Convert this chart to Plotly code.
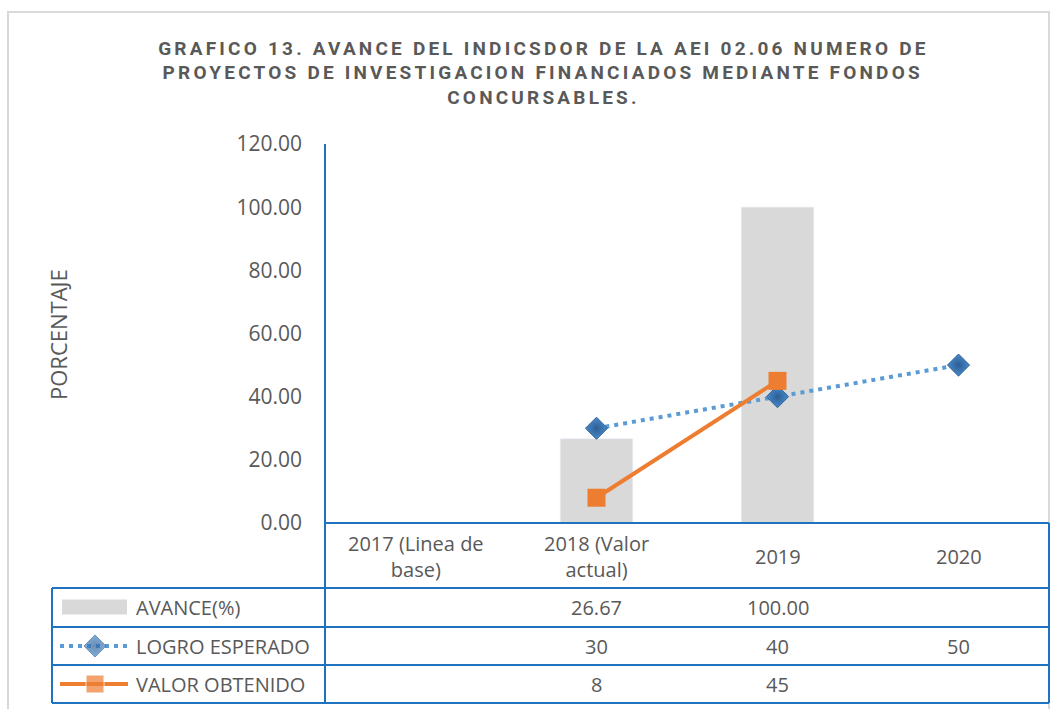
import plotly.graph_objects as go

# ---------------- data ----------------
categories = ["2017 (Linea de base)", "2018 (Valor actual)", "2019", "2020"]
category_labels = ["2017 (Linea de<br>base)", "2018 (Valor<br>actual)", "2019", "2020"]
avance = [None, 26.67, 100.00, None]
logro_esperado = [None, 30, 40, 50]
valor_obtenido = [None, 8, 45, None]
series_names = ["AVANCE(%)", "LOGRO ESPERADO", "VALOR OBTENIDO"]
y_ticks = [0, 20, 40, 60, 80, 100, 120]
title_lines = [
    "GRAFICO 13. AVANCE DEL INDICSDOR DE LA AEI 02.06 NUMERO DE",
    "PROYECTOS DE INVESTIGACION FINANCIADOS MEDIANTE FONDOS",
    "CONCURSABLES.",
]
y_title = "PORCENTAJE"

# ---------------- styling ----------------
W, H = 1061, 709
TXT = "#595959"
GRID_BLUE = "#1F72C0"
BAR_GRAY = "#D9D9D9"
ORANGE = "#ED7D31"
BLUE = "#5B9BD5"
FONT = "Open Sans"
DOTS = "4px,5px"


def px(x):
    return x / W


def py(y):
    return 1 - y / H


diamond = dict(symbol="diamond", size=17, color="#4A89CC",
               gradient=dict(type="radial", color="#2C5F93"),
               line=dict(color="#2F6399", width=1))

fig = go.Figure()

# main series
fig.add_trace(go.Bar(
    x=categories, y=avance, name=series_names[0], marker_color=BAR_GRAY,
    width=0.4, xaxis="x", yaxis="y", showlegend=False))
fig.add_trace(go.Scatter(
    x=categories, y=logro_esperado, name=series_names[1], mode="lines+markers",
    line=dict(color=BLUE, width=4, dash=DOTS), marker=diamond,
    xaxis="x", yaxis="y", showlegend=False))
fig.add_trace(go.Scatter(
    x=categories, y=valor_obtenido, name=series_names[2], mode="lines+markers",
    line=dict(color=ORANGE, width=4),
    marker=dict(symbol="square", size=18, color=ORANGE),
    xaxis="x", yaxis="y", showlegend=False))

# legend keys inside the data table (overlay pixel axes)
key_x = [60, 95, 128]
fig.add_trace(go.Scatter(
    x=[62, 127], y=[607, 607], mode="lines", line=dict(color=BAR_GRAY, width=15),
    xaxis="x2", yaxis="y2", showlegend=False, hoverinfo="skip"))
fig.add_trace(go.Scatter(
    x=key_x, y=[646, 646, 646], mode="lines+markers",
    line=dict(color=BLUE, width=4, dash=DOTS),
    marker=dict(diamond, size=[0, 17, 0]),
    xaxis="x2", yaxis="y2", showlegend=False, hoverinfo="skip"))
fig.add_trace(go.Scatter(
    x=key_x, y=[684, 684, 684], mode="lines+markers",
    line=dict(color=ORANGE, width=4),
    marker=dict(symbol="square", size=[0, 18, 0], color=ORANGE),
    xaxis="x2", yaxis="y2", showlegend=False, hoverinfo="skip"))

# ---------------- annotations ----------------
annotations = []
for line, yy in zip(title_lines, [48, 72.5, 97]):
    annotations.append(dict(
        text="<b>" + line + "</b>", x=px(543), y=py(yy), xref="paper", yref="paper",
        xanchor="center", yanchor="middle", showarrow=False,
        font=dict(family="Liberation Sans Narrow, Roboto, sans-serif", size=19, color=TXT)))

annotations.append(dict(
    text=y_title, x=px(58), y=py(335), xref="paper", yref="paper", textangle=-90,
    xanchor="center", yanchor="middle", showarrow=False,
    font=dict(family=FONT, size=22, color=TXT)))

# category header row (category index positions on the x axis)
for i, lab in enumerate(category_labels):
    annotations.append(dict(
        text=lab, x=i, xref="x", y=py(556), yref="paper",
        xanchor="center", yanchor="middle", showarrow=False,
        font=dict(family=FONT, size=20, color=TXT)))

row_centers = [607.5, 646, 684]
row_values = [
    [None if v is None else f"{v:.2f}" for v in avance],
    [None if v is None else f"{v:g}" for v in logro_esperado],
    [None if v is None else f"{v:g}" for v in valor_obtenido],
]
for name, yc, vals in zip(series_names, row_centers, row_values):
    annotations.append(dict(
        text=name, x=px(134), y=py(yc), xref="paper", yref="paper",
        xanchor="left", yanchor="middle", showarrow=False,
        font=dict(family=FONT, size=20, color=TXT)))
    for i, v in enumerate(vals):
        if v is None:
            continue
        annotations.append(dict(
            text=v, x=i, xref="x", y=py(yc), yref="paper",
            xanchor="center", yanchor="middle", showarrow=False,
            font=dict(family=FONT, size=20, color=TXT)))

# ---------------- shapes (frame + table grid) ----------------
L_AX, R_AX = 325, 1049
shapes = [
    dict(type="rect", xref="paper", yref="paper", x0=px(8), x1=px(1049),
         y0=py(730), y1=py(12), line=dict(color="#D9D9D9", width=2), layer="below"),
]
grid = dict(color=GRID_BLUE, width=2)
shapes.append(dict(type="line", xref="paper", yref="paper", x0=px(L_AX), x1=px(R_AX),
                   y0=py(523), y1=py(523), line=grid))
for yy in [588, 627, 665, 703]:
    shapes.append(dict(type="line", xref="paper", yref="paper", x0=px(52), x1=px(R_AX),
                       y0=py(yy), y1=py(yy), line=grid))
shapes.append(dict(type="line", xref="paper", yref="paper", x0=px(L_AX), x1=px(L_AX),
                   y0=py(144), y1=py(703), line=grid))
shapes.append(dict(type="line", xref="paper", yref="paper", x0=px(R_AX), x1=px(R_AX),
                   y0=py(523), y1=py(703), line=grid))
shapes.append(dict(type="line", xref="paper", yref="paper", x0=px(52), x1=px(52),
                   y0=py(588), y1=py(703), line=grid))

fig.update_layout(
    width=W, height=H, autosize=False,
    margin=dict(l=0, r=0, t=0, b=0, pad=0, autoexpand=False),
    paper_bgcolor="white", plot_bgcolor="rgba(0,0,0,0)",
    font=dict(family=FONT, color=TXT),
    xaxis=dict(domain=[px(L_AX), px(R_AX)], type="category", categoryarray=categories,
               categoryorder="array", range=[-0.5, 3.5], showticklabels=False,
               showline=False, showgrid=False, zeroline=False, ticks="", anchor="y",
               automargin=False, fixedrange=True),
    yaxis=dict(domain=[py(523), py(144)], range=[0, 120], tickvals=y_ticks,
               tickformat=".2f", showgrid=False, zeroline=False, showline=False,
               ticks="", ticklabelstandoff=22, anchor="x", automargin=False,
               tickfont=dict(family=FONT, size=21, color=TXT), fixedrange=True),
    xaxis2=dict(domain=[0, 1], range=[0, W], visible=False, anchor="y2",
                automargin=False, fixedrange=True),
    yaxis2=dict(domain=[0, 1], range=[H, 0], visible=False, anchor="x2",
                automargin=False, fixedrange=True),
    annotations=annotations,
    shapes=shapes,
)

css = """
var st = document.createElement('style');
st.innerHTML = 'html, body {margin:0; padding:0; overflow:hidden;} ' +
  '.annotation[data-index="0"] text, .annotation[data-index="1"] text, ' +
  '.annotation[data-index="2"] text {letter-spacing: 3.2px;}';
document.head.appendChild(st);
"""

fig.write_html("out.html", post_script=css, config={"displayModeBar": False})
